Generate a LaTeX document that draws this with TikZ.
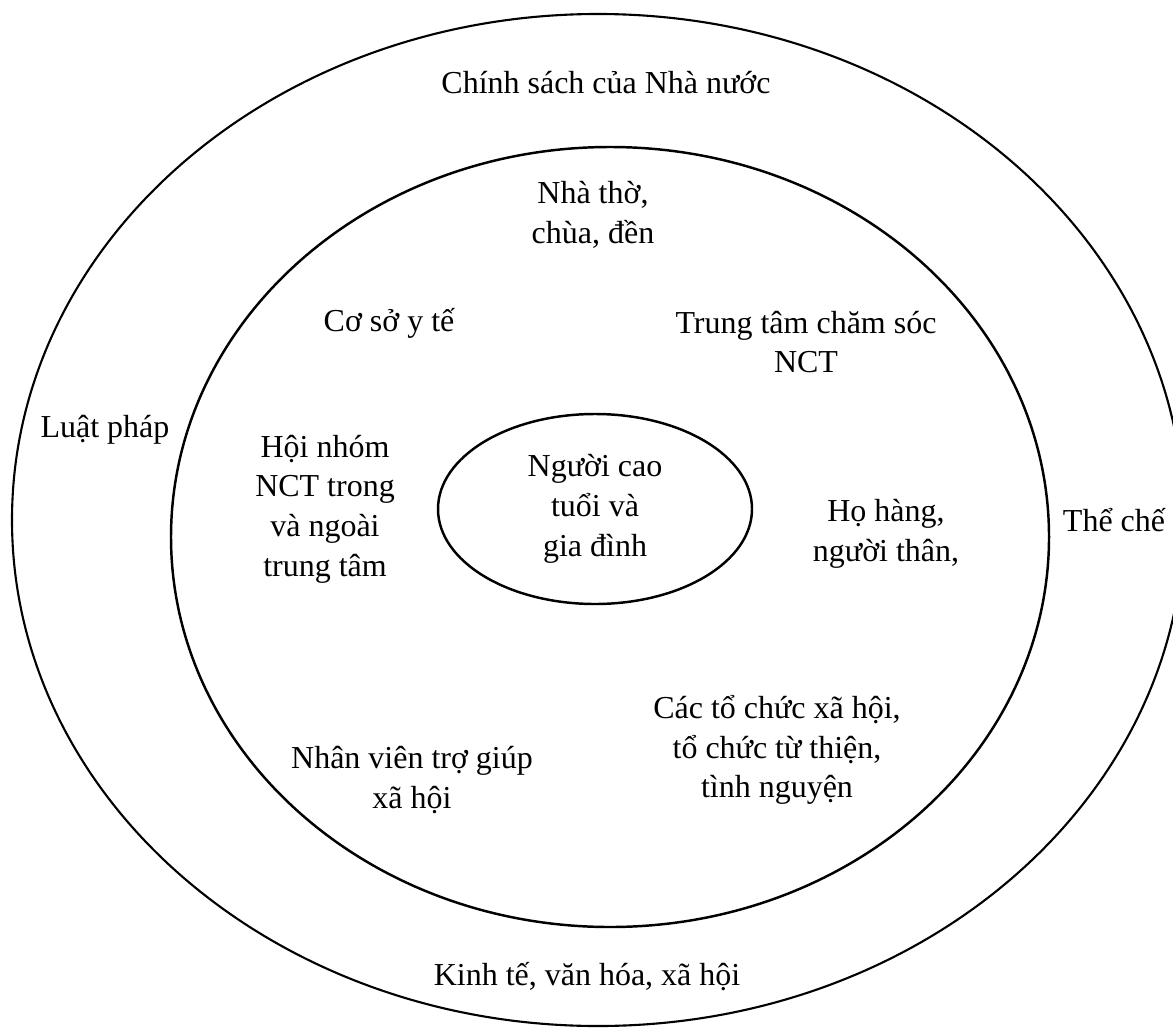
\documentclass[tikz,border=0pt]{standalone}
\usepackage{fontspec}
\setmainfont{Liberation Serif}
\usetikzlibrary{shapes.geometric}

\begin{document}
\begin{tikzpicture}[line width=.6pt,
    lbl/.style={align=center, font=\fontsize{9.1}{11.3}\selectfont},
    core/.style={draw, ellipse, line width=.7pt, inner sep=0pt, minimum width=3.14cm, minimum height=1.9cm}]
    
    \useasboundingbox (0,0) rectangle (11.73,10.27);
    
    \draw (5.98,5.07) ellipse [x radius=5.86, y radius=5.06];
    \draw [line width=.7pt](6.10,4.90) ellipse [x radius=4.39, y radius=3.90];
    
    \node [core, lbl] (nct) at (5.95,5.18) {Người cao\\tuổi và\\gia đình};
    
    \node [lbl] (chinhsach) at (6.06,9.44) {Chính sách của Nhà nước};
    \node [lbl] (luatphap) at (1.05,5.97) {Luật pháp};
    \node [lbl] (theche) at (11.14,5.07) {Thể chế};
    \node [lbl] (kinhte) at (5.87,0.50) {Kinh tế, văn hóa, xã hội};
    
    \node [lbl] (nhatho) at (5.93,8.12) {Nhà thờ,\\chùa, đền};
    \node [lbl] (yte) at (3.89,7.04) {Cơ sở y tế};
    \node [lbl] (trungtam) at (8.06,6.85) {Trung tâm chăm sóc\\NCT};
    \node [lbl] (hoinhom) at (3.25,5.18) {Hội nhóm\\NCT trong\\và ngoài\\trung tâm};
    \node [lbl] (hohang) at (8.86,4.93) {Họ hàng,\\người thân,};
    \node [lbl] (nhanvien) at (4.12,2.47) {Nhân viên trợ giúp\\xã hội};
    \node [lbl] (tochuc) at (7.77,2.77) {Các tổ chức xã hội,\\tổ chức từ thiện,\\tình nguyện};
    
\end{tikzpicture}
\end{document}
